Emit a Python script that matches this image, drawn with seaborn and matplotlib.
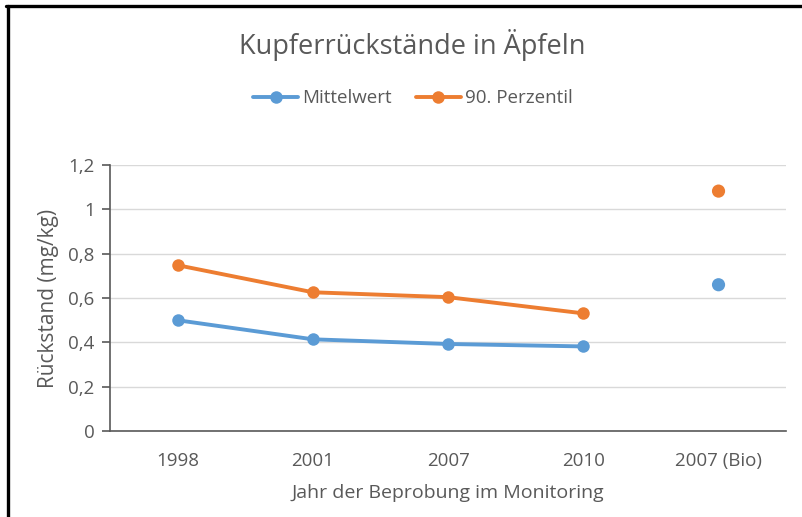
import matplotlib
matplotlib.use("Agg")
import matplotlib.pyplot as plt
from matplotlib.lines import Line2D
from matplotlib.ticker import FuncFormatter
import pandas as pd
import seaborn as sns

# data
years      = ["1998", "2001", "2007", "2010"]
bio_label  = "2007 (Bio)"
mittelwert = [0.50, 0.414, 0.393, 0.382]
perzentil  = [0.748, 0.626, 0.604, 0.531]
bio_mittel = 0.660
bio_perz   = 1.082
series     = ["Mittelwert", "90. Perzentil"]
y_ticks    = [0, 0.2, 0.4, 0.6, 0.8, 1.0, 1.2]

BLUE   = "#5B9BD5"
ORANGE = "#ED7D31"
GREY   = "#595959"
GRID   = "#D9D9D9"

sns.set_theme(style="white")
plt.rcParams["font.family"] = ["Open Sans", "DejaVu Sans"]

categories = years + [bio_label]
pos = {c: i for i, c in enumerate(categories)}

df_line = pd.DataFrame({
    "x": [pos[y] for y in years] * 2,
    "wert": mittelwert + perzentil,
    "serie": [series[0]] * len(years) + [series[1]] * len(years),
})
df_bio = pd.DataFrame({
    "x": [pos[bio_label]] * 2,
    "wert": [bio_mittel, bio_perz],
    "serie": series,
})
palette = {series[0]: BLUE, series[1]: ORANGE}

fig = plt.figure(figsize=(8.03, 5.17), dpi=100)
ax = fig.add_axes([0.137, 0.166, 0.842, 0.515])

sns.lineplot(data=df_line, x="x", y="wert", hue="serie", palette=palette,
             marker="o", markersize=9, markeredgewidth=0, linewidth=2.8,
             legend=False, ax=ax)
sns.scatterplot(data=df_bio, x="x", y="wert", hue="serie", palette=palette,
                s=90, linewidth=0, legend=False, ax=ax)

ax.set_xlim(-0.5, len(categories) - 0.5)
ax.set_ylim(0, 1.2)
ax.set_xticks(range(len(categories)))
ax.set_xticklabels(categories)
ax.set_yticks(y_ticks)
ax.yaxis.set_major_formatter(
    FuncFormatter(lambda v, _: f"{v:g}".replace(".", ",")))

ax.grid(axis="y", color=GRID, linewidth=1)
ax.set_axisbelow(True)
for s in ["top", "right"]:
    ax.spines[s].set_visible(False)
for s in ["left", "bottom"]:
    ax.spines[s].set_color(GREY)
    ax.spines[s].set_linewidth(1.2)

ax.tick_params(axis="y", which="major", left=True, length=6, width=1.2,
               color=GREY, labelcolor=GREY, labelsize=13.5, pad=5)
ax.tick_params(axis="x", bottom=False, labelcolor=GREY, labelsize=13.5, pad=9)

ax.set_xlabel("Jahr der Beprobung im Monitoring", color=GREY, fontsize=14,
              labelpad=10)
ax.set_ylabel("Rückstand (mg/kg)", color=GREY, fontsize=15, labelpad=7)

fig.text(0.513, 0.913, "Kupferrückstände in Äpfeln", ha="center",
         va="center", color=GREY, fontsize=19.5)

handles = [Line2D([], [], color=palette[s], marker="o", markersize=9,
                  linewidth=2.8, markeredgewidth=0) for s in series]
fig.legend(handles, series, loc="center", bbox_to_anchor=(0.514, 0.81),
           ncol=2, frameon=False, fontsize=13.5, labelcolor=GREY,
           handlelength=2.4, handletextpad=0.2, columnspacing=1.3)

# outer frame (top and left edge of the screenshot)
fig.add_artist(Line2D([0.008, 1.0], [0.988, 0.988], color="black",
                      linewidth=2.4, transform=fig.transFigure))
fig.add_artist(Line2D([0.0097, 0.0097], [0.0, 0.988], color="black",
                      linewidth=2.4, transform=fig.transFigure))

fig.savefig("out.png", dpi=100)
